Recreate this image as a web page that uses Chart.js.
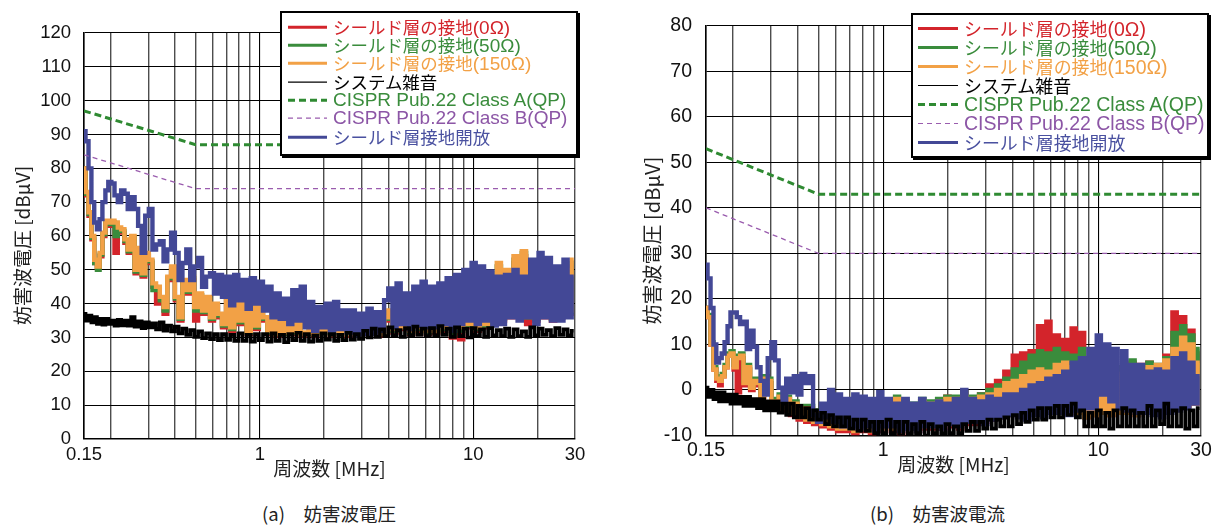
<!DOCTYPE html>
<html>
<head>
<meta charset="utf-8">
<script src="https://cdn.jsdelivr.net/npm/chart.js@4.4.1/dist/chart.umd.min.js"></script>
<style>
  body { margin: 0; background: #fff; width: 1215px; height: 525px; overflow: hidden; position: relative;
         font-family: "Liberation Sans", "Noto Sans CJK JP", sans-serif; }
  canvas { position: absolute; top: 0; }
  #cvA { left: 0; }
  #cvB { left: 620px; }
  .legend { position: absolute; background: #fff; border: 2px solid #000; box-shadow: 2px 2px 0 #000; box-sizing: border-box; }
  .legend .row { position: absolute; left: 0; right: 0; white-space: nowrap; }
  .legend .row span.t { position: absolute; top: 0; }
  .legend .cjk { font-family: "Noto Sans CJK JP", sans-serif; font-size: 0.92em; }
  .caption { position: absolute; top: 502px; font-size: 18.5px; line-height: 22px; color: #222;
             font-family: "Noto Sans CJK JP", sans-serif; white-space: pre; }
</style>
</head>
<body>
<canvas id="cvA" width="600" height="480"></canvas>
<canvas id="cvB" width="595" height="480"></canvas>
<div class="caption" style="left:262px">(a)　妨害波電圧</div>
<div class="caption" style="left:870px">(b)　妨害波電流</div>

<script>
// frequency grid [MHz], shared by every measured trace
const FREQ = [
  0.150,0.155,0.160,0.165,0.170,0.175,0.180,0.186,0.192,0.198,
  0.205,0.212,0.220,0.228,0.236,0.245,0.254,0.264,0.274,0.285,
  0.296,0.308,0.320,0.333,0.347,0.361,0.376,0.392,0.408,0.425,
  0.443,0.462,0.482,0.503,0.525,0.548,0.572,0.597,0.623,0.650,
  0.680,0.710,0.742,0.776,0.811,0.848,0.887,0.928,0.970,1.01,
  1.06,1.11,1.16,1.21,1.27,1.33,1.39,1.45,1.52,1.59,
  1.66,1.74,1.82,1.90,1.99,2.08,2.18,2.28,2.38,2.49,
  2.61,2.73,2.85,2.98,3.12,3.27,3.42,3.57,3.74,3.91,
  4.09,4.28,4.47,4.68,4.90,5.12,5.36,5.60,5.86,6.13,
  6.41,6.71,7.02,7.34,7.68,8.03,8.40,8.79,9.19,9.61,
  10.05,10.51,11.0,11.5,12.0,12.6,13.2,13.8,14.4,15.1,
  15.8,16.5,17.3,18.1,18.9,19.8,20.7,21.6,22.6,23.7,
  24.8,25.9,27.1,28.3,29.6
];

// (a) disturbance voltage [dBuV]
const A_OHM0 = [
  80,72,66,59,52,50.5,54,60,64,63,
  64,55,62,61,58,55,59,49,56,48,
  54,52,45,40,41,37,47,50,41,35,
  46,43,47,35,42,37,41,35,39,36,
  33,41,32,43,34,40,31,42,32.5,39,
  35,31,36,30.5,34.5,31,35,31,34,30.5,
  31,34,30.5,33.5,31.5,34.5,30.5,33,31.5,34,
  30.5,33,31.5,34,31,35,31.5,33.5,30.5,35,
  37,31.5,38,32.5,36,31,38,32,37,31,
  36,31.5,37,32,35,30,39,29.5,38,33,
  38,32,39,33,40,34,49,35,48,36,
  52,37,54,34,51,35,46,36,47,35,
  45,36,49,37,51
];
const A_OHM50 = [
  80,72.5,66.5,59.5,52,50,54.5,60.5,64,63.5,
  64,60,62,61.5,58.5,55.5,59.5,49.5,56,48.5,
  54.5,52.5,44,44,41,38,47.5,50.5,41.5,35.5,
  46.5,43.5,47.5,38,42.5,37.5,41.5,35.5,39.5,36.5,
  33.5,41.5,32.5,43.5,34.5,40.5,31.5,42.5,33,39.5,
  35.5,31.5,36.5,31,35,31,35.5,31.5,34.5,31,
  31,34.5,31,34,31.5,35,31,33.5,31.5,34.5,
  31,33.5,31.5,34.5,31,35.5,31.5,34,31,35.5,
  37.5,32,38.5,33,36.5,31.5,38.5,32.5,37.5,31.5,
  36.5,32,37.5,32.5,35.5,31,39.5,32,38.5,33.5,
  38.5,32.5,39.5,33.5,40.5,34.5,51,35.5,49,36.5,
  53,37.5,55,36,51.5,35.5,46.5,36.5,48,35.5,
  45.5,36.5,49.5,37.5,52
];
const A_OHM150 = [
  80,73,67,60,53,51,55,61,64.5,64,
  64.5,64,62.5,62,59,56,60,50,56.5,49,
  55,53,46,45,42,39,48,51,42,36,
  47,44,48,39,43,38,42,36,40,37,
  34,42,33,44,35,41,32,43,33.5,40,
  36,32,37,31,35.5,31.5,36,32,35,31,
  31.5,35,31,34.5,32,35.5,31,34,32,35,
  31,34,32,35,31.5,36,32,34.5,31,36,
  38,32.5,39,33,37,32,39,33,38,32,
  37,32,38,33,36,32,40,33,39,34,
  39,33,40,34,41,35,52,36,50,37,
  54,38,55.5,37,52,36,47,37,49,36,
  46,37,50,38,53
];
const A_NOISE = [
  37,35,36.5,34.5,36,34,35.5,33.8,35.5,34,
  35,33.5,35.2,33.6,35,33.5,36,33.2,34.8,32.8,
  34.5,33,34.2,32.4,34.5,32,33.5,31.8,33.2,31.2,
  32.6,30.8,32.2,30.2,31.8,29.8,31.2,29.5,31,29.2,
  31,29.3,30.8,29,31.2,29,30.8,28.8,31,29.2,
  31,28.8,31.2,29,30.8,28.6,31,29.2,31.4,29,
  31,28.8,30.6,29,31.2,29.4,31,29,30.8,29.2,
  31.4,29.4,31,29.6,32,30,32.6,30.2,32.4,30.4,
  33,30.6,32.2,30.2,32.8,30.6,33.2,30.8,32.6,30.4,
  32.8,30.6,33.4,30.8,32.6,30.2,33,30.4,32.6,30,
  32.8,30.4,32.4,30.2,32.8,30.6,32.2,30.4,32.6,30.2,
  32.4,30.4,31.8,30.2,33,30.6,32.6,30.8,32.2,30.4,
  32.8,30.8,32.4,30.6,32
];
const A_OPEN = [
  91,88,80,70,64,62,65,70,73.5,76,
  75.5,72,70,73.5,72.5,68,71.5,68,63,55,
  66,68,56,57.5,58.5,52.5,56,61,55,47,
  52,56,47,51,53.5,45,48,49,43,48.5,
  42,48,39.5,48.5,41,47,38.5,47.5,40,46.5,
  38,45,36,43,35.5,41.5,34,44,35,45,
  33,40.5,32,39,33,40,31.5,40.5,32.5,38,
  31.5,38,30.5,37,31,38.5,31,37.5,32,41,
  44.5,33,46,34,43,32.5,45,33.5,46.5,33,
  45,33,46,34,47.5,32,48.5,34,50,35,
  52,34,51,35,49.5,33.5,48,34,48.5,36,
  50,35,48,36,53,34,55,36,53.5,35,
  51,35,53,36,48
];

// (b) disturbance current
const B_OHM0 = [
  18,16,10,4.5,2,1,3,5,7.5,7.5,
  4.5,-0.5,7,1,4.5,0,1.5,1,-2,2,
  1.5,-3,-3,-2,-4.5,-2.5,-5.5,-3.5,-6.5,-4.5,
  -7,-4.5,-7.5,-5.5,-8,-6.5,-8.5,-6,-9,-5.5,
  -9,-5,-9.5,-5.5,-9,-4.5,-9.5,-5,-9,-4,
  -3,-9,-2,-9.5,-3,-8.5,-3.5,-9,-2.5,-8.5,
  -3,-8.5,-2.5,-8.5,-1.5,-8,-2,-8.5,-0.5,-7.5,
  -2,-7.5,-1,-7,1,-6.5,2,-6,4,-5.5,
  7.5,-5.5,8,-5,8.5,-4.5,14,-4.5,15,-4,
  12,-4,11,-4,13.5,-5,12.5,-6,0,-5.5,
  -2,-5,3,-5.5,4.5,-5,5,-5,6,-5.5,
  5.5,-5,6,-5,5,-5,7.5,-4.5,17,-4,
  16,-3.5,13,-3,8
];
const B_OHM50 = [
  18,16.5,10.5,5,3,2.5,3.5,5.5,8,8.5,
  5.5,7.5,8,2,5.5,1,2.5,2,-1,3,
  2.5,-2,-2.5,-1,-3.5,-1.5,-4.5,-2.5,-5.5,-3.5,
  -6,-3.5,-6.5,-4.5,-7,-5.5,-7.5,-5,-8,-4.5,
  -8,-4,-8.5,-4.5,-8,-3.5,-8.5,-4,-8,-3,
  -2.5,-8,-1.5,-8.5,-2.5,-7.5,-3,-8,-2,-7.5,
  -2.5,-7.5,-2,-7.5,-1.5,-7,-1.5,-7.5,-0.5,-6.5,
  -1.5,-6.5,-1,-6,0,-5.5,1,-5,2.5,-4.5,
  4.5,-4.5,6,-4,7.5,-3.5,8.5,-3.5,8,-3.5,
  9,-3.5,8,-3,7.5,-4.5,9,-5.5,0.5,-5,
  -1,-4.5,3,-5,5,-4.5,5.5,-4.5,6.5,-5,
  5,-4.5,6,-4.5,5.5,-4.5,7,-4,12.5,-3.5,
  14,-3,12,-2.5,9
];
const B_OHM150 = [
  18,16,10,4.5,2.5,2,3,5,7.5,8,
  5,7,7.5,1.5,5,0.5,2,1.5,-1.5,2.5,
  2,-2.5,-3,-1.5,-4,-2,-5,-3,-6,-4,
  -6.5,-4,-7,-5,-7.5,-6,-8,-5.5,-8.5,-5,
  -8.5,-4.5,-9,-5,-8.5,-4,-9,-4.5,-8.5,-3.5,
  -3,-8.5,-2,-9,-3,-8,-3.5,-8.5,-2.5,-8,
  -3,-8,-2.5,-8,-2,-7.5,-2,-8,-1.5,-7,
  -2,-7,-1.5,-6.5,-1,-6,0,-5.5,1.5,-5,
  2,-5,3,-4.5,4,-4,4.5,-4,4,-4,
  5.5,-4,6,-3.5,5,-5,2,-6,0,-5.5,
  -1,-5,2,-5.5,3.5,-5,4,-5,4,-5.5,
  4.5,-5,5,-5,5.5,-5,6.5,-4.5,9,-4,
  11.5,-3.5,10,-3,6
];
const B_NOISE = [
  0.5,-1.5,0,-2,-0.5,-2.5,-0.5,-2.5,-1,-3,
  -1,-3,-1.5,-3.5,-1.5,-3.5,-2,-4,-2,-4.5,
  -2.5,-4.5,-2.5,-5,-3,-5.5,-3,-6,-3.5,-6,
  -4,-6.5,-4.5,-6.5,-5,-7.5,-5.5,-8,-6,-8,
  -6,-8.5,-6.5,-9,-6.5,-9,-7,-9.5,-7,-9.5,
  -6.5,-9.5,-7,-10,-7,-9.5,-7.5,-9.5,-7,-10,
  -7.5,-9.5,-8,-9.5,-7.5,-9.5,-8,-9.5,-7.5,-9,
  -7,-9,-7,-8.5,-6.5,-8.5,-6.5,-8,-6,-8,
  -5.5,-7.5,-5,-7,-4.5,-6.5,-4,-6.5,-4,-6,
  -3.5,-6,-3.5,-5.5,-3,-6,-4.5,-8,-5,-8,
  -4.5,-8,-5,-8.5,-4.5,-8,-4,-8,-4.5,-8,
  -5,-8,-3.5,-8,-4.5,-7.5,-3,-8,-4.5,-8,
  -4,-8.5,-4.5,-8,-4
];
const B_OPEN = [
  27.5,24.5,18,10,6,7,8,10.5,14,17,
  17,16,14.5,15,9,13,9.5,5,2,-1,
  7,10.5,6.5,0.5,-2.5,2.5,-0.5,3,-1,3.5,
  1.5,3,-5.5,-7,-3,-6,0,-7,-1,-8,
  -2,-8,-1,-8.5,-1.5,-8,-2,-9,-0.5,-8,
  -2,-8,-3,-9,-2,-8.5,-3,-9,-2,-8,
  -3,-8,-2.5,-8.5,-3,-7.5,-2,-8,0,-7,
  -2,-7,-2.5,-7.5,-1.5,-6.5,-2,-6,-1,-5.5,
  -1,-6,0,-6.5,1,-5.5,1.5,-6,2.5,-5,
  3,-5,4,-5.5,6,-4.5,7,-4,9,-4,
  12,-1,10,-2.5,9,-4,8.5,-4.5,5.5,-5,
  5.5,-5,4,-5.5,4.5,-6,4,-5,7,-4.5,
  8,-4,6,-3,3
];

// CISPR Pub.22 QP limit lines
const LIMIT_F = [0.15, 0.5, 30];
const A_CLASS_A = [97, 87, 87];
const A_CLASS_B = [84, 74, 74];
const B_CLASS_A = [53, 43, 43];
const B_CLASS_B = [40, 30, 30];

const X_TICKS = [0.15,0.2,0.3,0.4,0.5,0.6,0.7,0.8,0.9,1,2,3,4,5,6,7,8,9,10,20,30];
const X_LABELS = [0.15, 1, 10, 30];
const X_MAJOR = [1, 10];

const STYLE = [
  { label: 'シールド層の接地(0Ω)', color: '#d3242b', text: '#d3242b', width: 3, lw: 4.4 },
  { label: 'シールド層の接地(50Ω)', color: '#3a8c3c', text: '#3a8c3c', width: 3, lw: 4.4 },
  { label: 'シールド層の接地(150Ω)', color: '#f2a146', text: '#f2a146', width: 3, lw: 4.4 },
  { label: 'システム雑音', color: '#000000', text: '#000000', width: 1.2, lw: 3.7 },
  { label: 'CISPR Pub.22 Class A(QP)', color: '#2f8a32', text: '#3a8c3c', width: 3, lw: 3, dash: [7, 4], limit: true },
  { label: 'CISPR Pub.22 Class B(QP)', color: '#9a5cae', text: '#8c56a6', width: 1.2, lw: 1.3, dash: [5, 4], limit: true },
  { label: 'シールド層接地開放', color: '#434896', text: '#4a51a0', width: 3, lw: 4.4 }
];
// draw order: higher = further back
const ORDER = [7, 6, 5, 3, 1, 2, 4];

Chart.defaults.font.family = '"Liberation Sans", "Noto Sans CJK JP", sans-serif';
Chart.defaults.color = '#111';
const TITLE_FONT = '"Noto Sans CJK JP", sans-serif';

function panel(id, cfg) {
  const values = cfg.values;
  const datasets = STYLE.map((s, i) => {
    const fs = s.limit ? LIMIT_F : FREQ;
    return {
      label: s.label,
      data: fs.map((f, k) => ({ x: f, y: values[i][k] })),
      borderColor: s.color,
      borderWidth: s.lw,
      borderDash: s.dash || [],
      stepped: s.limit ? false : 'middle',   // receiver sweep: dense vertical spikes
      order: ORDER[i],
      pointRadius: 0,
      tension: 0,
      fill: false
    };
  });

  new Chart(document.getElementById(id), {
    type: 'line',
    data: { datasets },
    options: {
      responsive: false,
      animation: false,
      devicePixelRatio: 1,
      layout: { padding: { top: cfg.top, right: cfg.right, left: 0, bottom: 0 } },
      plugins: { legend: { display: false }, tooltip: { enabled: false } },
      scales: {
        x: {
          type: 'logarithmic',
          min: 0.15,
          max: 30,
          afterBuildTicks: sc => { sc.ticks = X_TICKS.map(v => ({ value: v, major: X_MAJOR.includes(v) })); },
          afterFit: sc => { sc.height = cfg.xh; },
          ticks: {
            autoSkip: false, maxRotation: 0, padding: cfg.xpad,
            font: { size: cfg.tick },
            callback: v => X_LABELS.includes(v) ? String(v) : ''
          },
          grid: {
            drawTicks: false,
            color: c => (c.tick && X_MAJOR.includes(c.tick.value)) ? '#000' : '#4d4d4d',
            lineWidth: c => (c.tick && X_MAJOR.includes(c.tick.value)) ? 1.1 : 1.4
          },
          border: { color: '#000', width: 1.5 },
          title: { display: true, text: '周波数 [MHz]', color: '#222', font: { size: 19, family: TITLE_FONT },
                   padding: { top: 0, bottom: cfg.xtpad } }
        },
        y: {
          min: cfg.ymin,
          max: cfg.ymax,
          afterFit: sc => { sc.width = cfg.yw; },
          ticks: { stepSize: 10, padding: cfg.ypad, font: { size: cfg.tick } },
          grid: { drawTicks: false, color: '#000', lineWidth: 1.1 },
          border: { color: '#000', width: 1.5 },
          // trailing ideographic space nudges the rotated title down like the original
          title: { display: true, text: '妨害波電圧 [dBμV]　', color: '#222', font: { size: cfg.ytitle, family: TITLE_FONT },
                   padding: { top: cfg.ytpad, bottom: 0 } }
        }
      }
    }
  });
}

function legend(p) {
  const box = document.createElement('div');
  box.className = 'legend';
  Object.assign(box.style, { left: p.x + 'px', top: p.y + 'px', width: p.w + 'px', height: p.h + 'px' });
  STYLE.forEach((s, i) => {
    const cy = p.row0 + i * p.gap - p.y - 2;
    const row = document.createElement('div');
    row.className = 'row';
    row.style.top = (cy - p.gap / 2) + 'px';
    row.style.height = p.gap + 'px';
    row.style.lineHeight = p.gap + 'px';
    row.style.fontSize = p.font + 'px';
    const dash = (s.dash || []).join(' ');
    const text = s.label.replace(/([\u3000-\u9fff\uff00-\uffef]+)/g, '<span class="cjk">$1</span>');
    row.innerHTML =
      `<svg width="${p.sw}" height="${p.gap}" style="position:absolute;left:${p.sx - p.x - 2}px;top:0">` +
      `<line x1="0" x2="${p.sw}" y1="${p.gap / 2}" y2="${p.gap / 2}" stroke="${s.color}" stroke-width="${s.width}" stroke-dasharray="${dash}"/></svg>` +
      `<span class="t" style="left:${p.tx - p.x - 2}px;color:${s.text}">${text}</span>`;
    box.appendChild(row);
  });
  document.body.appendChild(box);
}

panel('cvA', {
  values: [A_OHM0, A_OHM50, A_OHM150, A_NOISE, A_CLASS_A, A_CLASS_B, A_OPEN],
  ymin: 0, ymax: 120, top: 33, right: 25, xh: 41, yw: 84,
  tick: 18.5, ytitle: 19, xpad: 5, ypad: 13, xtpad: 0, ytpad: 11
});
panel('cvB', {
  values: [B_OHM0, B_OHM50, B_OHM150, B_NOISE, B_CLASS_A, B_CLASS_B, B_OPEN],
  ymin: -10, ymax: 80, top: 25, right: 14, xh: 44.5, yw: 86,
  tick: 19.5, ytitle: 20, xpad: 3, ypad: 14, xtpad: 4, ytpad: 20
});

legend({ x: 280, y: 11, w: 298, h: 145, row0: 27, gap: 18.3, sx: 288, sw: 39, tx: 333, font: 19 });
legend({ x: 911, y: 13, w: 298, h: 145, row0: 28, gap: 19, sx: 918, sw: 40, tx: 964, font: 19.5 });
</script>
</body>
</html>
